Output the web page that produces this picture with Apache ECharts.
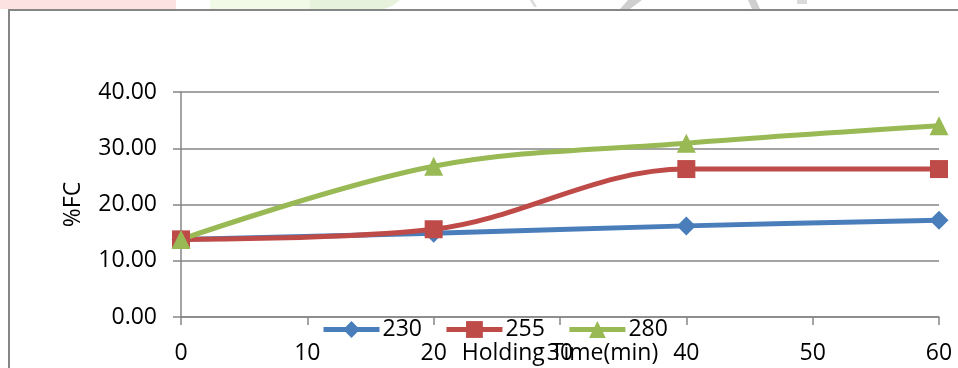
<!DOCTYPE html>
<html>
<head>
<meta charset="utf-8">
<script src="https://cdn.jsdelivr.net/npm/echarts@6/dist/echarts.min.js"></script>
<style>
  html, body { margin: 0; padding: 0; background: #fff; }
  #chart { width: 958px; height: 368px; }
</style>
</head>
<body>
<div id="chart"></div>
<script>
// Holding time (min) on the x axis
const holdingTime = [0, 20, 40, 60];
// %FC at each temperature
const fc230 = [13.8, 14.9, 16.2, 17.2];
const fc255 = [13.8, 15.6, 26.3, 26.3];
const fc280 = [13.8, 26.8, 30.9, 34.0];
const seriesNames = ['230', '255', '280'];
const yTicks = [0, 10, 20, 30, 40];
const xTicks = [0, 10, 20, 30, 40, 50, 60];

const FONT = 'Open Sans';
const FONT_SIZE = 23;
const AXIS_GRAY = '#868686';
const LINE_WIDTH = 5;

function pairs(xs, ys) {
  return xs.map((x, i) => [x, ys[i]]);
}

function makeSeries(name, values, color, symbol, size) {
  return {
    name: name,
    type: 'line',
    data: pairs(holdingTime, values),
    smooth: 0.35,
    symbol: symbol,
    symbolSize: size,
    lineStyle: { color: color, width: LINE_WIDTH },
    itemStyle: { color: color },
    emphasis: { disabled: true }
  };
}

const chart = echarts.init(document.getElementById('chart'), null, { renderer: 'canvas' });

chart.setOption({
  animation: false,
  backgroundColor: '#ffffff',
  textStyle: { fontFamily: FONT },
  graphic: [
    // faint strip along the top edge
    { type: 'rect', shape: { x: 0, y: 0, width: 176, height: 9 }, style: { fill: '#fde2e2' }, silent: true },
    { type: 'rect', shape: { x: 210, y: 0, width: 100, height: 9 }, style: { fill: '#f1fae6' }, silent: true },
    { type: 'polygon', shape: { points: [[310, 0], [400, 0], [392, 6], [384, 9], [310, 9]] }, style: { fill: '#e7f2dc' }, silent: true },
    { type: 'polygon', shape: { points: [[530, 0], [533, 0], [537, 7], [534, 7]] }, style: { fill: '#dcdcdc' }, silent: true },
    { type: 'polygon', shape: { points: [[628, 0], [642, 0], [630, 9], [620, 9]] }, style: { fill: '#cfcfcf' }, silent: true },
    { type: 'polygon', shape: { points: [[748, 0], [756, 0], [760, 9], [752, 9]] }, style: { fill: '#cfcfcf' }, silent: true },
    { type: 'rect', shape: { x: 797, y: 0, width: 10, height: 4 }, style: { fill: '#dadada' }, silent: true },
    // chart frame
    { type: 'rect', shape: { x: 9, y: 10, width: 1000, height: 400 }, style: { fill: 'none', stroke: AXIS_GRAY, lineWidth: 2 }, silent: true, z: 0 }
  ],
  grid: { left: 181, right: 19, top: 92, bottom: 51, containLabel: false, outerBoundsMode: 'none' },
  legend: {
    data: seriesNames,
    left: 321,
    top: 318,
    padding: 0,
    itemWidth: 56,
    itemHeight: 21,
    itemGap: 22,
    lineStyle: { width: LINE_WIDTH },
    textStyle: { fontFamily: FONT, fontSize: FONT_SIZE, color: '#000', padding: [0, 0, 0, -2] }
  },
  xAxis: {
    type: 'value',
    min: xTicks[0],
    max: xTicks[xTicks.length - 1],
    interval: 10,
    name: 'Holding Time(min)',
    nameLocation: 'middle',
    nameGap: 25,
    nameMoveOverlap: false,
    nameTextStyle: { fontFamily: FONT, fontSize: FONT_SIZE, color: '#000' },
    axisLine: { show: true, onZero: false, lineStyle: { color: AXIS_GRAY, width: 1.5 } },
    axisTick: { show: true, inside: false, length: 8, lineStyle: { color: AXIS_GRAY, width: 1.5 } },
    axisLabel: { fontFamily: FONT, fontSize: FONT_SIZE, color: '#000', margin: 25, hideOverlap: false },
    splitLine: { show: false }
  },
  yAxis: {
    type: 'value',
    min: yTicks[0],
    max: yTicks[yTicks.length - 1],
    interval: 10,
    name: '%FC',
    nameLocation: 'middle',
    nameGap: 96,
    nameMoveOverlap: false,
    nameRotate: 90,
    nameTextStyle: { fontFamily: FONT, fontSize: FONT_SIZE, color: '#000' },
    axisLine: { show: true, lineStyle: { color: AXIS_GRAY, width: 1.5 } },
    axisTick: { show: true, inside: false, length: 8, lineStyle: { color: AXIS_GRAY, width: 1.5 } },
    axisLabel: {
      fontFamily: FONT, fontSize: FONT_SIZE, color: '#000', margin: 24,
      formatter: v => v.toFixed(2)
    },
    splitLine: { show: true, lineStyle: { color: AXIS_GRAY, width: 1.5 } }
  },
  series: [
    makeSeries(seriesNames[0], fc230, '#4a7ebb', 'diamond', 19),
    makeSeries(seriesNames[1], fc255, '#be4b48', 'rect', 18),
    makeSeries(seriesNames[2], fc280, '#98b954', 'triangle', 19)
  ]
});
</script>
</body>
</html>
